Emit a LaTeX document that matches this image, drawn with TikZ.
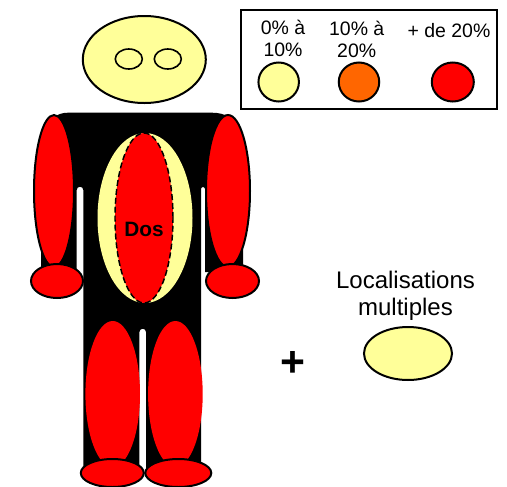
\documentclass[tikz,border=0pt]{standalone}
\usepackage{fontspec}
\setmainfont{Liberation Sans}
\usetikzlibrary{shapes.geometric}
\definecolor{paleyellow}{HTML}{FFFF99}
\definecolor{midorange}{HTML}{FF6600}
\definecolor{fullred}{HTML}{FF0000}
\tikzset{
  blob/.style n args={2}{shape=ellipse,inner sep=0pt,outer sep=0pt,minimum width=#1*0.75pt,minimum height=#2*0.75pt},
  lined/.style={draw=black,line width=1.5pt},
  thinlined/.style={draw=black,line width=1.2pt},
  legendtext/.style={align=center,font=\fontsize{14.6pt}{16.5pt}\selectfont,inner sep=0pt},
  bigtext/.style={align=center,font=\fontsize{18pt}{20.5pt}\selectfont,inner sep=0pt},
}
\begin{document}
\begin{tikzpicture}[x=0.75pt,y=-0.75pt]
\clip (0,0) rectangle (507,486);
\fill[white] (0,0) rectangle (507,486);
% body silhouette
\fill[black] (44,200) -- (46,130) to[out=80,in=180] (68,112.7) -- (212,112.7) to[out=0,in=100] (238,130)
  -- (240,200) -- (243,250) -- (243,272) -- (205,272) -- (205,189)
  arc[start angle=0,end angle=-180,x radius=2,y radius=2] -- (201,470) -- (146,470) -- (146,332)
  arc[start angle=0,end angle=-180,x radius=3.3,y radius=3.3] -- (139.4,470) -- (83.3,470) -- (83.3,190)
  arc[start angle=0,end angle=-180,x radius=3.3,y radius=3.3] -- (76.7,272) -- (41,272) -- (41,250) -- cycle;
% head
\node[blob={123}{87},lined,fill=paleyellow] (head) at (144.3,59.5) {};
\node[blob={27}{20},thinlined] (eyeL) at (128.8,59) {};
\node[blob={27}{20},thinlined] (eyeR) at (167.8,59) {};
% arms and hands
\node[blob={40}{152},lined,fill=fullred] (armL) at (54,191) {};
\node[blob={44}{152},lined,fill=fullred] (armR) at (228,191) {};
\node[blob={52}{34},lined,fill=fullred] (handL) at (57,281) {};
\node[blob={53}{34},lined,fill=fullred] (handR) at (232.5,281) {};
% back
\node[blob={95}{170},fill=paleyellow] (backY) at (145,218) {};
\node[blob={58}{170},fill=fullred,draw=black,line width=1.1pt,dash pattern=on 4.5pt off 2.2pt] (backR) at (144,218) {};
\node[font=\bfseries\fontsize{15.6pt}{17pt}\selectfont,inner sep=0pt] (dos) at (144,229.5) {Dos};
% legs and feet
\node[blob={54.6}{146},fill=fullred] (legL) at (112.7,394) {};
\node[blob={54.6}{146},fill=fullred] (legR) at (175.4,394) {};
\node[blob={63}{28},lined,fill=fullred] (footL) at (112.3,473) {};
\node[blob={66}{28},lined,fill=fullred] (footR) at (178.3,473) {};
% legend
\node[draw=black,line width=1.5pt,minimum width=256*0.75pt,minimum height=99*0.75pt,inner sep=0pt] (legend) at (369.2,59.5) {};
\node[legendtext] (t1) at (283,38.5) {0\% à\\10\%};
\node[legendtext] (t2) at (356.7,39) {10\% à\\20\%};
\node[legendtext] (t3) at (449,31) {+ de 20\%};
\node[blob={40.5}{39},lined,fill=paleyellow] (c1) at (278.7,82) {};
\node[blob={40.5}{39},lined,fill=midorange] (c2) at (359,82) {};
\node[blob={42}{39},lined,fill=fullred] (c3) at (452.8,82) {};
% multiple sites
\node[font=\bfseries\fontsize{32pt}{32pt}\selectfont,inner sep=0pt] (plus) at (292.5,364) {+};
\node[bigtext] (multi) at (405.5,295.5) {Localisations\\multiples};
\node[blob={88}{53},lined,fill=paleyellow] (multiE) at (408,353.5) {};
\end{tikzpicture}
\end{document}
